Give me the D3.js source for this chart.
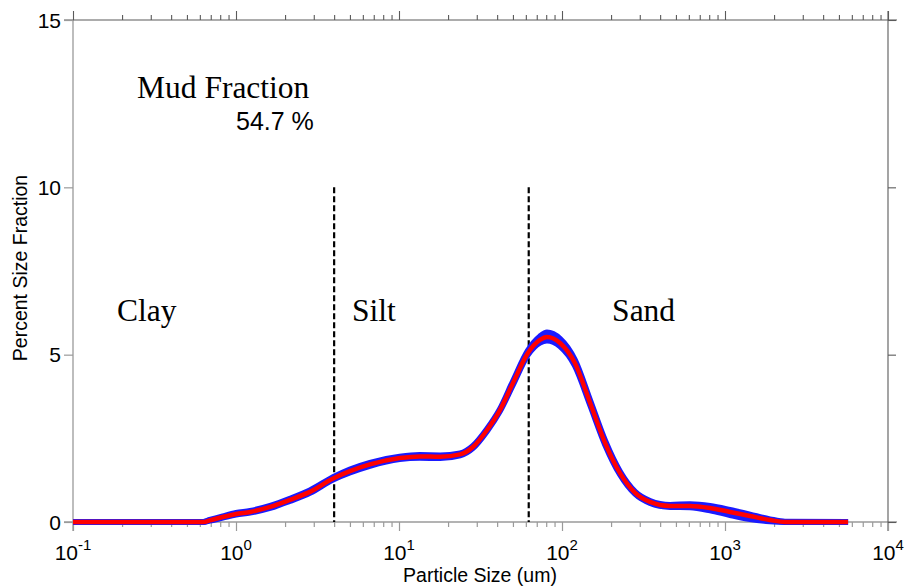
<!DOCTYPE html>
<html>
<head>
<meta charset="utf-8">
<script src="https://cdn.jsdelivr.net/npm/d3@7"></script>
<style>
  html, body { margin: 0; padding: 0; background: #fff; }
  svg { display: block; }
</style>
</head>
<body>
<svg id="chart" width="906" height="586"></svg>
<script>
// Particle size (um) and percent size fraction
const sizes = [0.1, 0.2, 0.4, 0.63, 0.69, 0.83, 1.0, 1.22, 1.62, 2.14, 2.84, 3.94, 5.0, 6.63,
  10.1, 13.4, 17.9, 23.7, 28.4, 34.7, 41.7, 50, 61.8, 73.2, 80.9, 97.3, 120, 149, 184, 227,
  281, 347, 460, 610, 809, 1074, 1423, 1888, 2335, 5690];
// mean distribution
const meanPct = [0, 0, 0, 0, 0.05, 0.15, 0.24, 0.3, 0.45, 0.66, 0.9, 1.3, 1.52, 1.72,
  1.91, 1.96, 1.95, 2.02, 2.24, 2.75, 3.35, 4.15, 5.05, 5.44, 5.53, 5.35, 4.75, 3.55, 2.36, 1.46,
  0.87, 0.6, 0.48, 0.48, 0.42, 0.3, 0.18, 0.06, 0, 0];
// replicate runs
const rep1Pct = [0, 0, 0, 0, 0.06, 0.17, 0.27, 0.33, 0.48, 0.69, 0.94, 1.34, 1.57, 1.77,
  1.95, 2.0, 1.99, 2.05, 2.27, 2.78, 3.38, 4.2, 5.12, 5.54, 5.66, 5.47, 4.84, 3.62, 2.42, 1.5,
  0.9, 0.63, 0.51, 0.53, 0.48, 0.36, 0.22, 0.08, 0.01, 0];
const rep2Pct = [0, 0, 0, 0, 0.04, 0.13, 0.22, 0.28, 0.42, 0.63, 0.87, 1.27, 1.48, 1.68,
  1.88, 1.92, 1.91, 1.99, 2.21, 2.72, 3.32, 4.1, 5.0, 5.36, 5.42, 5.25, 4.67, 3.49, 2.31, 1.42,
  0.84, 0.57, 0.45, 0.44, 0.35, 0.21, 0.09, 0.02, 0, 0];

const xDecades = [0.1, 1, 10, 100, 1000, 10000];
const xExponents = ["-1", "0", "1", "2", "3", "4"];
const yTicks = [0, 5, 10, 15];
const boundaries = [4, 62.5];     // clay/silt and silt/sand limits (um)
const classLabels = [
  { name: "Clay", at: 0.186 },
  { name: "Silt", at: 5.15 },
  { name: "Sand", at: 203 }
];
const mudFraction = "54.7 %";

const svg = d3.select("#chart");
const L = 73, R = 888, T = 20, B = 522;

const x = d3.scaleLog().domain([0.1, 10000]).range([L, R]);
const y = d3.scaleLinear().domain([0, 15]).range([B, T]);

const leftCol = "#9a9a9a", rightCol = "#5a5a5a";
const sans = "Liberation Sans, Arial, sans-serif";
const serif = "Liberation Serif, Times New Roman, serif";

// frame lines
svg.append("line").attr("x1", L).attr("x2", L).attr("y1", T).attr("y2", B + 9)
  .attr("stroke", leftCol).attr("stroke-width", 1.3);
svg.append("line").attr("x1", L - 9).attr("x2", R + 9).attr("y1", B).attr("y2", B)
  .attr("stroke", leftCol).attr("stroke-width", 1.3);
svg.append("line").attr("x1", L - 9).attr("x2", R + 9).attr("y1", T).attr("y2", T)
  .attr("stroke", rightCol).attr("stroke-width", 1.1);
svg.append("line").attr("x1", R).attr("x2", R).attr("y1", T - 9).attr("y2", B + 9)
  .attr("stroke", rightCol).attr("stroke-width", 1.1);

// minor/major log ticks on bottom and top
const minorVals = [];
for (let d = 0; d < xDecades.length - 1; d++) {
  for (let m = 2; m <= 9; m++) minorVals.push(xDecades[d] * m);
}
const gB = svg.append("g").attr("transform", `translate(0,${B})`)
  .call(d3.axisBottom(x).tickValues(minorVals).tickSize(5).tickFormat(""));
const gBM = svg.append("g").attr("transform", `translate(0,${B})`)
  .call(d3.axisBottom(x).tickValues(xDecades).tickSize(9).tickFormat(""));
const gT = svg.append("g").attr("transform", `translate(0,${T})`)
  .call(d3.axisTop(x).tickValues(minorVals).tickSize(5).tickFormat(""));
const gTM = svg.append("g").attr("transform", `translate(0,${T})`)
  .call(d3.axisTop(x).tickValues(xDecades).tickSize(9).tickFormat(""));
[gB, gBM].forEach(g => { g.select(".domain").remove(); g.selectAll("line").attr("stroke", leftCol).attr("stroke-width", 1.2); });
[gT, gTM].forEach(g => { g.select(".domain").remove(); g.selectAll("line").attr("stroke", rightCol).attr("stroke-width", 1.1); });

// y ticks
const gL = svg.append("g").attr("transform", `translate(${L},0)`)
  .call(d3.axisLeft(y).tickValues(yTicks).tickSize(9).tickFormat(""));
const gR = svg.append("g").attr("transform", `translate(${R},0)`)
  .call(d3.axisRight(y).tickValues(yTicks).tickSize(8).tickFormat(""));
gL.select(".domain").remove(); gL.selectAll("line").attr("stroke", leftCol).attr("stroke-width", 1.2);
gR.select(".domain").remove(); gR.selectAll("line").attr("stroke", rightCol).attr("stroke-width", 1.1);

// y tick labels
svg.append("g").selectAll("text").data(yTicks).join("text")
  .attr("x", L - 12).attr("y", d => y(d) + 7.5)
  .attr("text-anchor", "end")
  .attr("font-family", sans)
  .attr("font-size", 21)
  .text(d => d);

// x tick labels: 10 with superscript exponent
const xl = svg.append("g").selectAll("text").data(xDecades).join("text")
  .attr("x", d => x(d)).attr("y", 560)
  .attr("text-anchor", "middle")
  .attr("font-family", sans)
  .attr("font-size", 21);
xl.append("tspan").text("10");
xl.append("tspan").attr("dy", -10).attr("font-size", 15).text((d, i) => xExponents[i]);

// axis titles
svg.append("text")
  .attr("transform", `translate(27,268) rotate(-90)`)
  .attr("text-anchor", "middle")
  .attr("font-family", sans)
  .attr("font-size", 19.5)
  .text("Percent Size Fraction");
svg.append("text")
  .attr("x", 480).attr("y", 582)
  .attr("text-anchor", "middle")
  .attr("font-family", sans)
  .attr("font-size", 19.5)
  .text("Particle Size (um)");

// size class boundaries
svg.append("g").selectAll("line").data(boundaries).join("line")
  .attr("x1", d => x(d)).attr("x2", d => x(d))
  .attr("y1", y(10)).attr("y2", B)
  .attr("stroke", "#000").attr("stroke-width", 2.2)
  .attr("stroke-dasharray", "6,3");

// distribution curves
const line = d3.line()
  .x((d, i) => x(sizes[i]))
  .y(d => y(d))
  .curve(d3.curveMonotoneX);

[rep1Pct, rep2Pct].forEach(rep => {
  svg.append("path").attr("d", line(rep))
    .attr("fill", "none").attr("stroke", "#1a1aff")
    .attr("stroke-width", 6).attr("stroke-linejoin", "round");
});
svg.append("path").attr("d", line(meanPct))
  .attr("fill", "none").attr("stroke", "#ff0000")
  .attr("stroke-width", 4.5).attr("stroke-linejoin", "round");

// annotation text
svg.append("text").attr("x", 137).attr("y", 98)
  .attr("font-family", serif).attr("font-size", 31.5)
  .text("Mud Fraction");
svg.append("text").attr("x", 236).attr("y", 130)
  .attr("font-family", sans).attr("font-size", 25)
  .text(mudFraction);
svg.append("g").selectAll("text").data(classLabels).join("text")
  .attr("x", d => x(d.at)).attr("y", 321)
  .attr("font-family", serif).attr("font-size", 31.5)
  .text(d => d.name);
</script>
</body>
</html>
